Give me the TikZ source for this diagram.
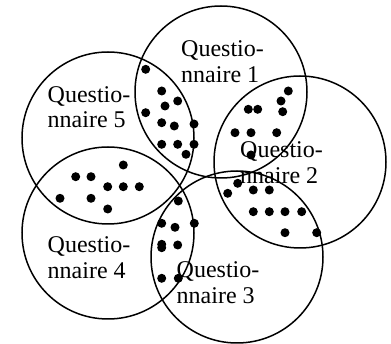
\documentclass[tikz,border=0pt]{standalone}
\usepackage{fontspec}
\setmainfont{Liberation Serif}

\begin{document}
\begin{tikzpicture}[x=1pt, y=-1pt,
    group/.style={circle, draw, line width=1.5pt, minimum size=172pt, inner sep=0pt},
    answer/.style={circle, fill, minimum size=9pt, inner sep=0pt},
    title/.style={align=left, anchor=north west, inner sep=0pt, font=\fontsize{24}{25.5}\selectfont}]
    \useasboundingbox (0,0) rectangle (391,344);
    % Define questionnaires
    \node[group] (q1) at (221,92) {};
    \node[group] (q2) at (300,162) {};
    \node[group] (q3) at (237,257) {};
    \node[group] (q4) at (108,233) {};
    \node[group] (q5) at (108,138) {};

    % Define labels
    \node[title] (t1) at (181,40.5) {Questio-\\nnaire 1};
    \node[title] (t2) at (240,141.5) {Questio-\\nnaire 2};
    \node[title] (t3) at (176.5,261.5) {Questio-\\nnaire 3};
    \node[title] (t4) at (47.5,236.5) {Questio-\\nnaire 4};
    \node[title] (t5) at (47.5,86) {Questio-\\nnaire 5};

    % Define answers
    \foreach \x/\y [count=\i] in {
        145.7/69.3, 161.7/91, 177.7/101, 165/106, 145.7/112.7, 161.7/122.7,
        174.3/126, 194/124, 161.7/144.3, 177.7/144.3, 194/144.3, 186/154.3,
        288.3/91, 281/101, 282.7/111.7, 248.3/109.3, 257.7/109.3,
        235/132.7, 251/132.7, 276.7/132.7, 251/155,
        123.3/165, 75.7/176.7, 91/176.7, 107.7/186.7, 123.3/186.7,
        139.3/186.7, 60/198.3, 91/198.3, 107.7/209,
        178.3/201, 161.7/223.3, 175/227.3, 194.3/223.3, 161.7/244.3,
        161.7/247.7, 177.7/245, 161.7/278.3, 178.3/278.3,
        237.7/183.3, 227.7/193.3, 253.3/190, 269.3/190, 253.3/211.7,
        269.3/211.7, 285/211.7, 301.7/211.7, 285/232.7, 316.7/232.7}
        \node[answer] (a\i) at (\x,\y) {};
\end{tikzpicture}
\end{document}
